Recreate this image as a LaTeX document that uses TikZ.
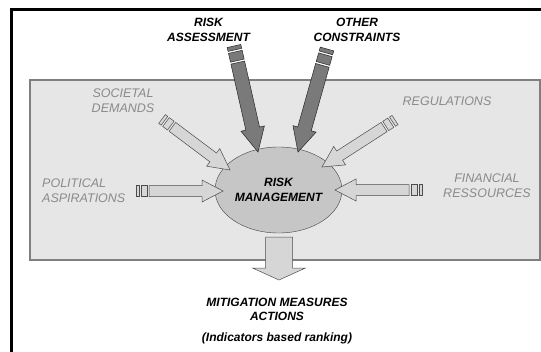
\documentclass[tikz,border=0pt]{standalone}
\usepackage{fontspec}
\setmainfont{Liberation Sans}
\usetikzlibrary{calc}
\usetikzlibrary{shapes}
\definecolor{panel}{HTML}{E6E6E6}
\definecolor{panelline}{HTML}{7F7F7F}
\definecolor{darkarrow}{HTML}{7A7A7A}
\definecolor{lightarrow}{HTML}{D6D6D6}
\definecolor{core}{HTML}{C6C6C6}
\definecolor{soft}{HTML}{8A8A8A}

% arrow body from #2 to #3, sizes in \sw, \hw, \hl
\newcommand\blockarrow[3]{%
  \draw[#1] ($(#2)!\sw!90:(#3)$) -- ($(#3)!\hl!(#2)!\sw!90:(#3)$)
    -- ($(#3)!\hl!(#2)!\hw!90:(#3)$) -- (#3)
    -- ($(#3)!\hl!(#2)!\hw!-90:(#3)$) -- ($(#3)!\hl!(#2)!\sw!-90:(#3)$)
    -- ($(#2)!\sw!-90:(#3)$) -- cycle;}
% same, with two stripes at the tail
\newcommand\stripedarrow[3]{%
  \foreach \a/\b in \stripes
    \draw[#1] ($(#2)!\a!(#3)!\sw!90:(#3)$) -- ($(#2)!\b!(#3)!\sw!90:(#3)$)
      -- ($(#2)!\b!(#3)!\sw!-90:(#3)$) -- ($(#2)!\a!(#3)!\sw!-90:(#3)$) -- cycle;
  \coordinate (body) at ($(#2)!\bodystart!(#3)$);
  \blockarrow{#1}{body}{#3}}

\begin{document}
\begin{tikzpicture}[x=1pt, y=-1pt,
    darktext/.style={font=\fontsize{12}{14.5}\selectfont\bfseries\itshape, align=center, inner sep=0},
    softtext/.style={font=\fontsize{12.5}{15}\selectfont\itshape, text=soft, align=center, inner sep=0},
    dark arrow/.style={fill=darkarrow, draw=black!85, line width=0.5pt},
    light arrow/.style={fill=lightarrow, draw=black!70, line width=0.5pt}]
  \useasboundingbox (0,0) rectangle (541,351);
  \draw[line width=2.6pt] (11.3,360) -- (11.3,9.7) -- (550,9.7);
  \draw[fill=panel, draw=panelline, line width=1.2pt] (30,80) rectangle (540,260);

  \node[ellipse, draw=black!75, fill=core, minimum width=127pt, minimum height=86pt,
    inner sep=0, darktext] (rm) at (278.5,190) {RISK\\MANAGEMENT};

  \node[darktext] (ra) at (208.5,30) {RISK\\ASSESSMENT};
  \node[darktext] (oc) at (357,30) {OTHER\\CONSTRAINTS};
  \node[softtext] (sd) at (123,100.5) {SOCIETAL\\DEMANDS};
  \node[softtext, align=left, anchor=west] (pa) at (42,190.5) {POLITICAL\\ASPIRATIONS};
  \node[softtext] (rg) at (447,101) {REGULATIONS};
  \node[softtext] (fr) at (487,185.5) {FINANCIAL\\RESSOURCES};
  \node[darktext] (mm) at (277,309.5) {MITIGATION MEASURES\\ACTIONS};
  \node[darktext] (ir) at (277,338) {(Indicators based ranking)};

  \coordinate (ra tail) at (234,46);
  \coordinate (ra tip) at (258,152);
  \coordinate (oc tail) at (327,49);
  \coordinate (oc tip) at (298,152);
  \coordinate (sd tail) at (162,119);
  \coordinate (sd tip) at (230,170);
  \coordinate (pa tail) at (136,191);
  \coordinate (pa tip) at (223,191);
  \coordinate (rg tail) at (395,120);
  \coordinate (rg tip) at (322,167);
  \coordinate (fr tail) at (422,190);
  \coordinate (fr tip) at (335,190);
  \coordinate (mm top) at (279,237);
  \coordinate (mm tip) at (279,280);

  \begin{scope}
    \def\sw{7pt}\def\hw{12pt}\def\hl{24pt}
    \def\stripes{0pt/4pt,6pt/15pt}\def\bodystart{17pt}
    \stripedarrow{dark arrow}{ra tail}{ra tip}
    \stripedarrow{dark arrow}{oc tail}{oc tip}
  \end{scope}
  \begin{scope}
    \def\sw{5.5pt}\def\hw{11pt}\def\hl{21pt}
    \def\stripes{0pt/3pt,5pt/11pt}\def\bodystart{13pt}
    \stripedarrow{light arrow}{sd tail}{sd tip}
    \stripedarrow{light arrow}{pa tail}{pa tip}
    \stripedarrow{light arrow}{rg tail}{rg tip}
    \stripedarrow{light arrow}{fr tail}{fr tip}
  \end{scope}
  \begin{scope}
    \def\sw{13.5pt}\def\hw{26.5pt}\def\hl{12pt}
    \blockarrow{light arrow}{mm top}{mm tip}
  \end{scope}
\end{tikzpicture}
\end{document}
